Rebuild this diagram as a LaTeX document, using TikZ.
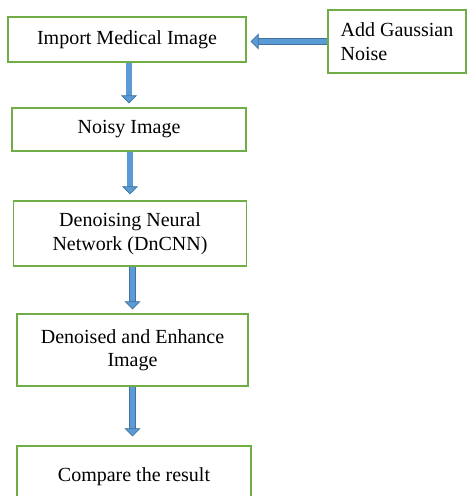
\documentclass[tikz,border=0pt]{standalone}
\usepackage{fontspec}
\setmainfont{Liberation Serif}
\usetikzlibrary{arrows.meta}

\definecolor{boxgreen}{RGB}{112,173,71}
\definecolor{arrowfill}{RGB}{91,155,213}
\definecolor{arrowline}{RGB}{65,113,156}

\tikzset{
    stepbox/.style={draw=boxgreen, line width=1.3pt, inner sep=0pt, align=center,
        font=\fontsize{20}{23.5}\selectfont},
    blockarrow/.style={draw=arrowline, line width=0.7pt, double=arrowfill, double distance=5.2pt,
        -{Triangle[length=8pt, width=16pt, fill=arrowfill, line width=0.7pt]}}
}

\begin{document}
\begin{tikzpicture}[x=1pt, y=-1pt]
            \useasboundingbox (0, 0) rectangle (467, 496);
            \clip (0, 0) rectangle (467, 496);
            %\draw[lightgray] (0, 0) grid[step=20] (467, 496);
            \node[stepbox, minimum width=238pt, minimum height=45pt](import) at (127, 39.5) {Import Medical Image};
            \node[stepbox, minimum width=138pt, minimum height=63pt, align=left](noise) at (397, 41.5) {Add Gaussian\\Noise};
            \node[stepbox, minimum width=234pt, minimum height=43pt](noisy) at (129, 129.5) {Noisy Image};
            \node[stepbox, minimum width=233pt, minimum height=65pt](dncnn) at (130, 233.5) {Denoising Neural\\Network (DnCNN)};
            \node[stepbox, minimum width=231pt, minimum height=72pt](enhance) at (132.5, 350) {Denoised and Enhance\\Image};
            \node[stepbox, minimum width=234pt, minimum height=62pt](compare) at (134, 477) {Compare the result};
            
            \draw[blockarrow, shorten >=4pt] (noise.west) -- (noise.west -| import.east);
            \draw[blockarrow, shorten >=4pt] (import.south -| noisy.north) -- (noisy.north);
            \draw[blockarrow, shorten >=6pt] (noisy.south -| dncnn.north) -- (dncnn.north);
            \draw[blockarrow, shorten >=4pt] (dncnn.south -| enhance.north) -- (enhance.north);
            \draw[blockarrow, shorten >=9pt] (enhance.south) -- (enhance.south |- compare.north);
        \end{tikzpicture}
\end{document}
